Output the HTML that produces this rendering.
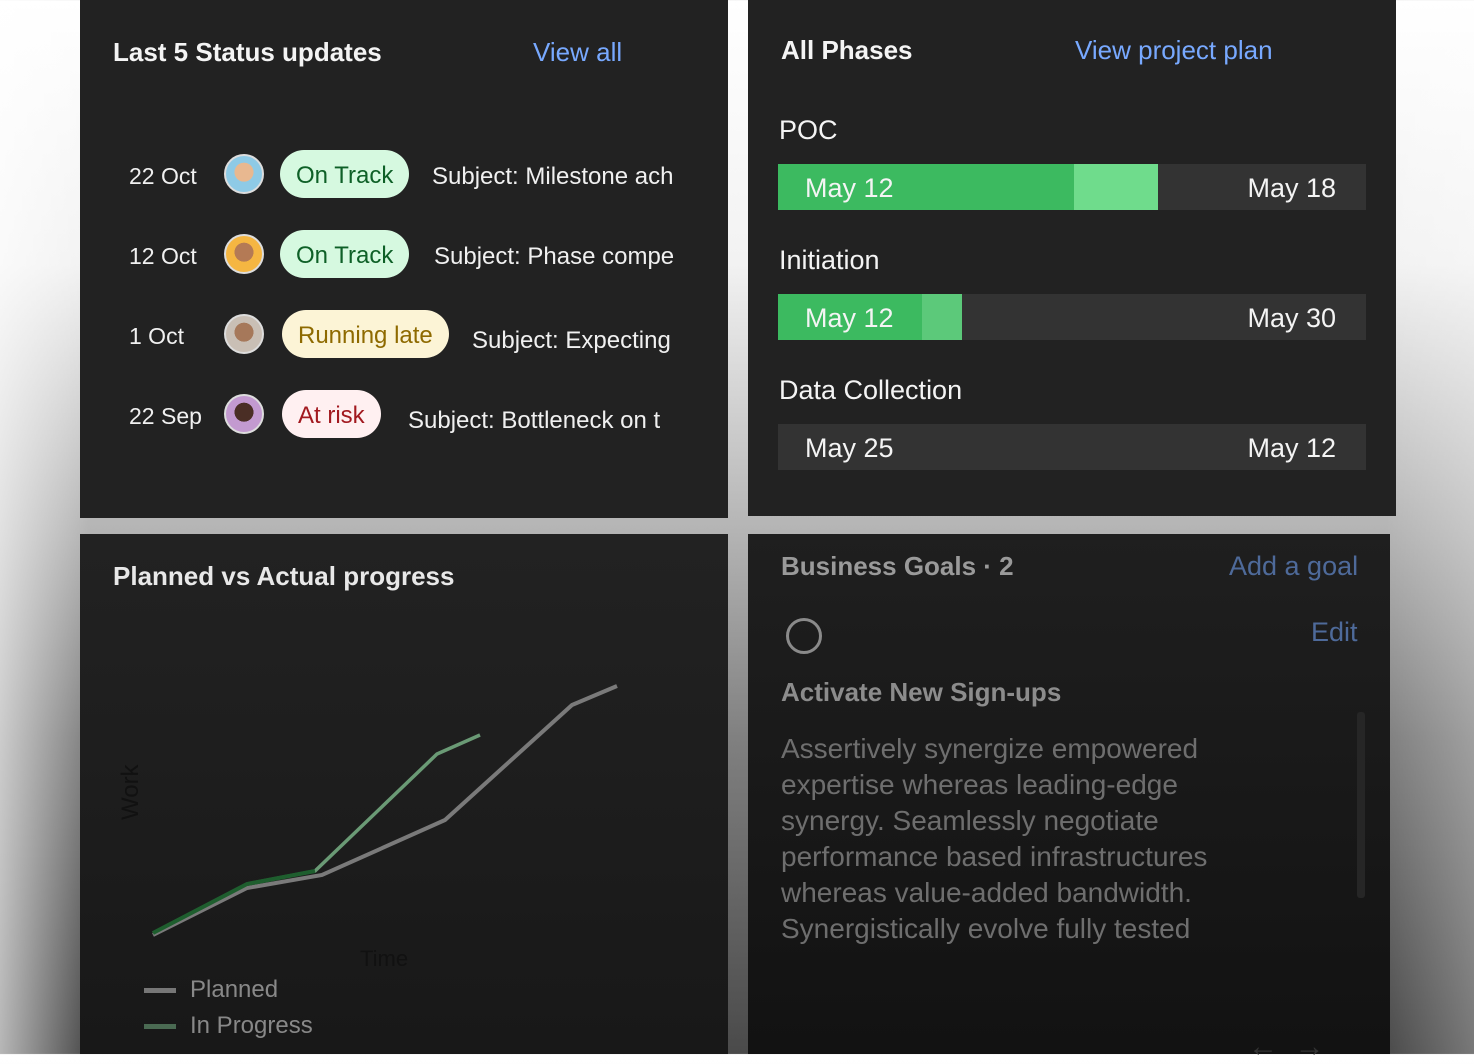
<!DOCTYPE html>
<html><head><style>
*{margin:0;padding:0;box-sizing:border-box}
body{width:1474px;height:1054px;overflow:hidden;position:relative;font-family:"Liberation Sans",sans-serif;
background:linear-gradient(180deg,#fff 0%,#f2f2f2 25%,#b5b5b5 50%,#808080 70%,#4a4a4a 100%);}
.bgr{position:absolute;inset:0;background:linear-gradient(90deg,rgba(255,255,255,.6) 0%,rgba(255,255,255,0) 6%,rgba(0,0,0,0) 94%,rgba(255,255,255,.25) 100%)}
.card{position:absolute;background:#222}
.t{position:absolute;white-space:nowrap}
.h{font-weight:bold;font-size:26px;color:#f4f4f4}
.link{color:#78a9ff;font-size:26px}
.row{font-size:23px;color:#f0f0f0}
.sub{font-size:24px;color:#f0f0f0}
.av{position:absolute;width:40px;height:40px;border-radius:50%;border:2px solid #ddd}
.pill{position:absolute;height:48px;border-radius:24px;font-size:24px;line-height:52px;padding:0 16px}
.bar{position:absolute;left:778px;width:588px;height:46px;background:#333}
.bar span{position:absolute;top:0;height:46px;font-size:27px;line-height:48px;color:#f4f4f4}
</style></head><body>
<div class="bgr"></div>

<div class="card" style="left:80px;top:0;width:648px;height:518px"></div>
<div class="t h" style="left:113px;top:37px">Last 5 Status updates</div>
<div class="t link" style="left:533px;top:37px">View all</div>

<div class="t row" style="left:129px;top:163px">22 Oct</div>
<div class="av" style="left:224px;top:154px;background:radial-gradient(circle at 50% 45%,#e8b890 0 35%,#8ecae6 36%)"></div>
<div class="pill" style="left:280px;top:150px;background:#d6f9e0;color:#0e6027">On Track</div>
<div class="t sub" style="left:432px;top:163px">Subject: Milestone ach</div>

<div class="t row" style="left:129px;top:243px">12 Oct</div>
<div class="av" style="left:224px;top:234px;background:radial-gradient(circle at 50% 45%,#b47a55 0 35%,#f5b642 36%)"></div>
<div class="pill" style="left:280px;top:230px;background:#d6f9e0;color:#0e6027">On Track</div>
<div class="t sub" style="left:434px;top:243px">Subject: Phase compe</div>

<div class="t row" style="left:129px;top:323px">1 Oct</div>
<div class="av" style="left:224px;top:314px;background:radial-gradient(circle at 50% 45%,#a6785a 0 35%,#c9bfb5 36%)"></div>
<div class="pill" style="left:282px;top:310px;background:#fcf4d6;color:#8e6a00">Running late</div>
<div class="t sub" style="left:472px;top:327px">Subject: Expecting</div>

<div class="t row" style="left:129px;top:403px">22 Sep</div>
<div class="av" style="left:224px;top:394px;background:radial-gradient(circle at 50% 45%,#4a2e25 0 35%,#c39ad0 36%)"></div>
<div class="pill" style="left:282px;top:390px;background:#fff0f1;color:#a2191f">At risk</div>
<div class="t sub" style="left:408px;top:407px">Subject: Bottleneck on t</div>

<div class="card" style="left:748px;top:0;width:648px;height:516px"></div>
<div class="t h" style="left:781px;top:35px">All Phases</div>
<div class="t link" style="left:1075px;top:35px">View project plan</div>
<div class="t" style="left:779px;top:115px;font-size:27px;color:#f4f4f4">POC</div>
<div class="bar" style="top:164px"><div style="position:absolute;left:0;top:0;width:296px;height:46px;background:#3cba60"></div><div style="position:absolute;left:296px;top:0;width:84px;height:46px;background:#6fdc8c"></div><span style="left:27px">May 12</span><span style="right:30px">May 18</span></div>
<div class="t" style="left:779px;top:245px;font-size:27px;color:#f4f4f4">Initiation</div>
<div class="bar" style="top:294px"><div style="position:absolute;left:0;top:0;width:144px;height:46px;background:#3cba60"></div><div style="position:absolute;left:144px;top:0;width:40px;height:46px;background:#5cc97a"></div><span style="left:27px">May 12</span><span style="right:30px">May 30</span></div>
<div class="t" style="left:779px;top:375px;font-size:27px;color:#f4f4f4">Data Collection</div>
<div class="bar" style="top:424px"><span style="left:27px">May 25</span><span style="right:30px">May 12</span></div>

<div class="card" style="left:80px;top:534px;width:648px;height:520px;background:linear-gradient(180deg,#222,#181818)"></div>
<div class="t h" style="left:113px;top:561px;color:#e8e8e8">Planned vs Actual progress</div>
<svg style="position:absolute;left:0;top:0" width="1474" height="1054">
<text x="0" y="0" transform="translate(138,820) rotate(-90)" font-size="24" fill="#111" font-family="Liberation Sans">Work</text>
<text x="360" y="966" font-size="22" fill="#111" font-family="Liberation Sans">Time</text>
<polyline points="153,935 247,888 322,875 445,820 572,705 617,686" fill="none" stroke="#7a7a7a" stroke-width="4"/>
<polyline points="153,933 247,884 315,871 437,754 480,735" fill="none" stroke="#6a9a75" stroke-width="3.5"/>
<polyline points="153,933 247,884 315,871" fill="none" stroke="#1e5e2e" stroke-width="4"/>
<rect x="144" y="988" width="32" height="5" fill="#777"/>
<rect x="144" y="1024" width="32" height="5" fill="#4a6a52"/>
</svg>
<div class="t" style="left:190px;top:976px;font-size:24px;color:#888">Planned</div>
<div class="t" style="left:190px;top:1012px;font-size:24px;color:#888">In Progress</div>

<div class="card" style="left:748px;top:534px;width:642px;height:520px;background:linear-gradient(180deg,#1f1f1f,#121212)"></div>
<div class="t h" style="left:781px;top:551px;color:#9a9a9a">Business Goals · 2</div>
<div class="t" style="left:1229px;top:551px;font-size:27px;color:#4e6a9a">Add a goal</div>
<div style="position:absolute;left:786px;top:618px;width:36px;height:36px;border-radius:50%;border:3px solid #8a8a8a"></div>
<div class="t" style="left:1311px;top:617px;font-size:27px;color:#4e6a9a">Edit</div>
<div class="t h" style="left:781px;top:677px;color:#8c8c8c">Activate New Sign-ups</div>
<div style="position:absolute;left:1357px;top:712px;width:8px;height:186px;background:#262626;border-radius:3px"></div>
<div class="t" style="left:781px;top:731px;font-size:28px;line-height:36px;color:#6e6e6e;white-space:normal;width:500px">Assertively synergize empowered<br>expertise whereas leading-edge<br>synergy. Seamlessly negotiate<br>performance based infrastructures<br>whereas value-added bandwidth.<br>Synergistically evolve fully tested</div>
<div class="t" style="left:1248px;top:1030px;font-size:30px;color:#333">←&nbsp;&nbsp;→</div>
</body></html>
